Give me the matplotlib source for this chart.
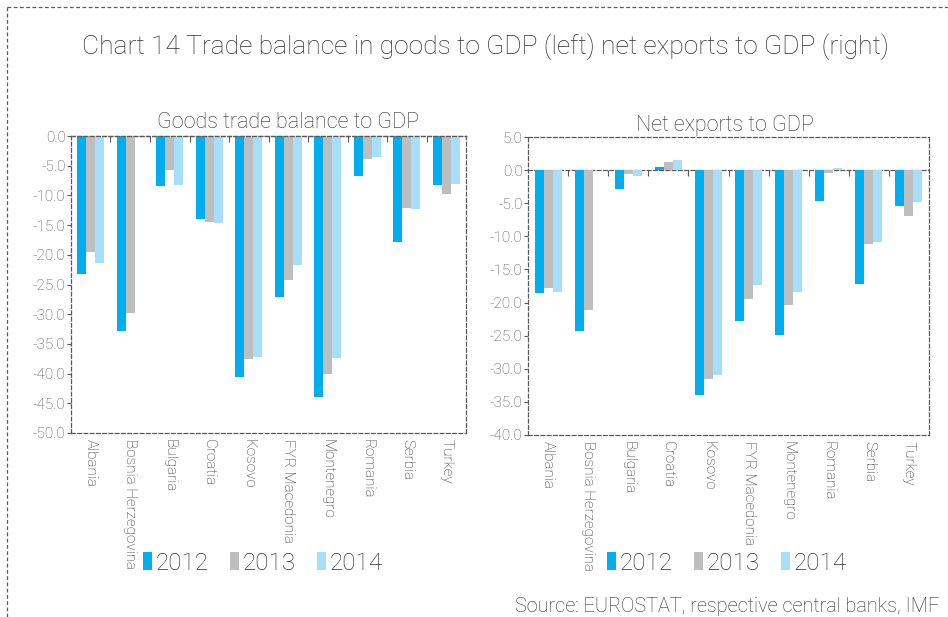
import matplotlib
matplotlib.use("Agg")
import matplotlib.pyplot as plt
from matplotlib.patches import Patch
from matplotlib.lines import Line2D
import numpy as np

# ---------------------------
# Data
# ---------------------------
countries = ["Albania", "Bosnia Herzegovina", "Bulgaria", "Croatia", "Kosovo",
             "FYR Macedonia", "Montenegro", "Romania", "Serbia", "Turkey"]
years = ["2012", "2013", "2014"]

# goods trade balance to GDP (left)
goods_2012 = [-23.2, -32.8, -8.5, -13.9, -40.6, -27.1, -44.0, -6.8, -17.8, -8.3]
goods_2013 = [-19.6, -29.8, -5.7, -14.5, -37.6, -24.3, -40.1, -3.9, -12.2, -9.8]
goods_2014 = [-21.3, np.nan, -8.2, -14.7, -37.2, -21.8, -37.3, -3.6, -12.3, -8.0]

# net exports to GDP (right)
net_2012 = [-18.5, -24.3, -2.8, 0.5, -33.9, -22.8, -24.9, -4.7, -17.2, -5.4]
net_2013 = [-17.8, -21.1, -0.6, 1.2, -31.5, -19.4, -20.3, -0.45, -11.1, -6.9]
net_2014 = [-18.4, np.nan, -0.9, 1.5, -30.9, -17.4, -18.4, 0.25, -10.9, -4.8]

colors = ["#00AEEF", "#BCBEC0", "#A8DFF8"]
text_col = "#303030"
spine_col = "#595959"
dash = (0, (3, 2))

plt.rcParams["font.family"] = ["Roboto", "DejaVu Sans"]
plt.rcParams["font.weight"] = "light"
plt.rcParams["axes.unicode_minus"] = False

W, H = 948, 617
fig = plt.figure(figsize=(W / 100, H / 100), dpi=100)


def px(x0, y0, x1, y1):
    # pixel box -> figure fraction rect
    return [x0 / W, 1 - y1 / H, (x1 - x0) / W, (y1 - y0) / H]


def panel(rect, series, ylim, yticks, title, title_xy, legend_x):
    ax = fig.add_axes(rect)
    x = np.arange(len(countries))
    w = 0.225
    for i, (vals, c) in enumerate(zip(series, colors)):
        ax.bar(x + (i - 1) * w, vals, width=w, color=c, zorder=2)
    ax.set_xlim(-0.5, len(countries) - 0.5)
    ax.set_ylim(*ylim)
    ax.set_yticks(yticks)
    ax.set_yticklabels([f"{v:.1f}" for v in yticks])
    ax.set_xticks(x)
    ax.set_xticklabels(countries, rotation=270, va="top", ha="center")
    ax.tick_params(axis="x", length=0, pad=4, labelsize=11, labelcolor=text_col)
    ax.tick_params(axis="y", length=3, width=0.8, pad=1, labelsize=11,
                   labelcolor="#505050", color=spine_col)
    for s in ax.spines.values():
        s.set_linestyle(dash)
        s.set_color(spine_col)
        s.set_linewidth(0.9)

    # zero line with ticks between categories
    loc = (0 - ylim[0]) / (ylim[1] - ylim[0])
    sec = ax.secondary_xaxis(loc)
    sec.set_xticks(np.arange(0.5, len(countries) - 1, 1.0))
    sec.tick_params(direction="in", length=4, width=0.8, color=spine_col,
                    labeltop=False, labelbottom=False)
    for s in sec.spines.values():
        s.set_linestyle(dash)
        s.set_color(spine_col)
        s.set_linewidth(0.9)

    fig.text(title_xy[0] / W, 1 - title_xy[1] / H, title, ha="center",
             va="center", fontsize=15.5, color=text_col)

    handles = [Patch(facecolor=c, edgecolor="none") for c in colors]
    fig.legend(handles, years, loc="center", ncol=3,
               bbox_to_anchor=(legend_x / W, 1 - 563 / H), frameon=False,
               fontsize=17.5, handlelength=0.35, handleheight=0.8,
               handletextpad=0.15, columnspacing=0.9, labelcolor=text_col)
    return ax


panel(px(71, 136, 466, 433), [goods_2012, goods_2013, goods_2014],
      (-50, 0), np.arange(-50, 0.1, 5), "Goods trade balance to GDP",
      (288, 122), 263)
panel(px(528, 137, 929, 435), [net_2012, net_2013, net_2014],
      (-40, 5), np.arange(-40, 5.1, 5), "Net exports to GDP",
      (725, 126), 727)

fig.text(485 / W, 1 - 47 / H,
         "Chart 14 Trade balance in goods to GDP (left) net exports to GDP (right)",
         ha="center", va="center", fontsize=19, color=text_col)
fig.text(515 / W, 1 - 606 / H,
         "Source: EUROSTAT, respective central banks, IMF",
         ha="left", va="center", fontsize=14.3, color=text_col)

# outer dashed frame (top and left edges visible)
fig.add_artist(Line2D([7 / W, 1.0], [1 - 7 / H, 1 - 7 / H], transform=fig.transFigure,
                      color=spine_col, lw=0.9, linestyle=dash))
fig.add_artist(Line2D([7 / W, 7 / W], [1 - 7 / H, 0], transform=fig.transFigure,
                      color=spine_col, lw=0.9, linestyle=dash))

fig.savefig("out.png", dpi=100)
